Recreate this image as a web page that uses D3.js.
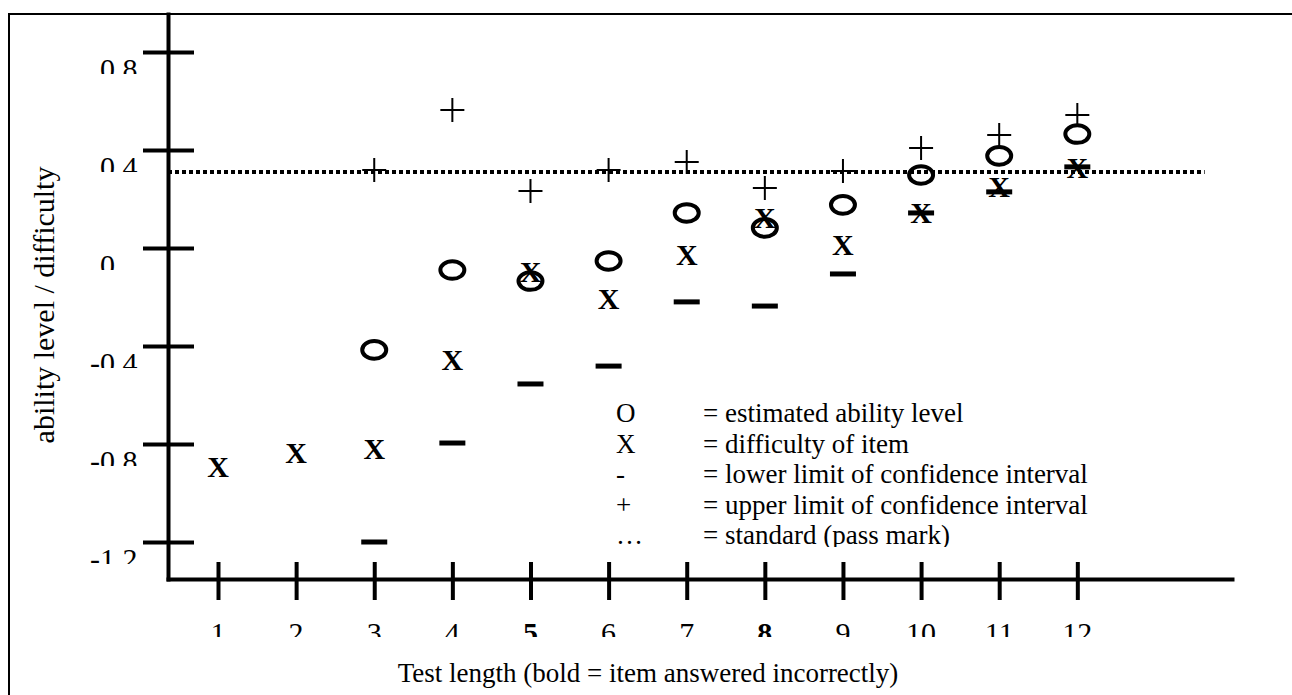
<!DOCTYPE html>
<html><head><meta charset="utf-8">
<script src="https://cdn.jsdelivr.net/npm/d3@7"></script>
<style>
html,body{margin:0;padding:0;background:#fff;}
svg{display:block;}
text{font-family:"Liberation Serif","Times New Roman",serif;fill:#000;}
</style></head><body>
<svg id="chart" width="1292" height="695"></svg>
<script>
// ---- data ----
const testLength     = [1, 2, 3, 4, 5, 6, 7, 8, 9, 10, 11, 12];
const abilityLevel   = [null, null, -0.416, -0.090, -0.135, -0.053, 0.143, 0.082, 0.176, 0.298, 0.376, 0.465];
const itemDifficulty = [-0.894, -0.837, -0.820, -0.457, -0.098, -0.208, -0.029, 0.122, 0.012, 0.143, 0.249, 0.327];
const lowerLimit     = [null, null, -1.200, -0.796, -0.555, -0.482, -0.220, -0.237, -0.106, 0.143, 0.229, 0.331];
const upperLimit     = [null, null, 0.318, 0.563, 0.233, 0.318, 0.351, 0.245, 0.314, 0.408, 0.461, 0.543];
const passMark = 0.31;
const incorrectItems = [5, 8];
const yTickValues = [-1.2, -0.8, -0.4, 0, 0.4, 0.8];
const yTickLabels = ["-1.2", "-0.8", "-0.4", "0", "0.4", "0.8"];
const xTickLabels = ["1","2","3","4","5","6","7","8","9","10","11","12"];
const legendSymbols = ["O", "X", "-", "+", "\u2026"];
const legendLabels = ["= estimated ability level", "= difficulty of item",
  "= lower limit of confidence interval", "= upper limit of confidence interval",
  "= standard (pass mark)"];
const xAxisTitle = "Test length (bold = item answered incorrectly)";
const yAxisTitle = "ability level / difficulty";

// ---- layout ----
const svg = d3.select("#chart");
const x = d3.scaleLinear().domain([0.36, 13.98]).range([168, 1232]);
const y = d3.scaleLinear().domain([-1.351, 0.955]).range([579, 14]);
const passLineEnd = 13.63;

svg.append("rect").attr("width", 1292).attr("height", 695).attr("fill", "#fff");
// outer frame
svg.append("rect").attr("x", 9).attr("y", 14).attr("width", 1400).attr("height", 800)
  .attr("fill", "none").attr("stroke", "#000").attr("stroke-width", 2);

const defs = svg.append("defs");

// y axis
const yAxisG = svg.append("g").attr("transform", `translate(${x.range()[0]},0)`)
  .call(d3.axisLeft(y).tickValues(yTickValues).tickSize(25).tickSizeOuter(0).tickFormat(""));
yAxisG.select(".domain").attr("stroke-width", 4).attr("stroke-linecap", "square");
yAxisG.selectAll(".tick line").attr("x1", 26).attr("stroke-width", 4);

// x axis
const xAxisG = svg.append("g").attr("transform", `translate(0,${y.range()[0]})`)
  .call(d3.axisBottom(x).tickValues(testLength).tickSize(21).tickSizeOuter(0).tickFormat(""));
xAxisG.select(".domain").attr("stroke-width", 4).attr("stroke-linecap", "square");
xAxisG.selectAll(".tick line").attr("y1", -17).attr("stroke-width", 4);

// y tick labels (clipped at the bottom like the original)
const probe = svg.append("text").attr("font-size", 30).text("-");
const minusW = probe.node().getComputedTextLength();
probe.remove();
yTickValues.forEach((v, i) => {
  const base = y(v) + 27;
  const id = "yclip" + i;
  defs.append("clipPath").attr("id", id).append("rect")
    .attr("x", 0).attr("y", base - 32).attr("width", 160).attr("height", 27);
  const lab = yTickLabels[i];
  svg.append("text").attr("clip-path", `url(#${id})`)
    .attr("x", 100 - (lab.startsWith("-") ? minusW : 0)).attr("y", base)
    .attr("font-size", 30).text(lab);
});

// x tick labels
defs.append("clipPath").attr("id", "xclip").append("rect")
  .attr("x", 0).attr("y", 600).attr("width", 1292).attr("height", 37);
svg.append("g").attr("clip-path", "url(#xclip)")
  .selectAll("text").data(testLength).join("text")
  .attr("x", d => x(d)).attr("y", 643).attr("text-anchor", "middle")
  .attr("font-size", 30)
  .attr("font-weight", d => incorrectItems.includes(d) ? "bold" : "normal")
  .text((d, i) => xTickLabels[i]);

// pass mark
svg.append("line")
  .attr("x1", x.range()[0]).attr("x2", x(passLineEnd))
  .attr("y1", y(passMark)).attr("y2", y(passMark))
  .attr("stroke", "#000").attr("stroke-width", 4).attr("stroke-dasharray", "4 3");

const pts = testLength.map((t, i) => ({t, o: abilityLevel[i], xd: itemDifficulty[i], lo: lowerLimit[i], hi: upperLimit[i]}));

// lower limits
svg.append("g").selectAll("rect").data(pts.filter(d => d.lo !== null)).join("rect")
  .attr("x", d => x(d.t) - 13).attr("y", d => y(d.lo) - 2.5)
  .attr("width", 26).attr("height", 5).attr("fill", "#000");
// upper limits
svg.append("g").selectAll("path").data(pts.filter(d => d.hi !== null)).join("path")
  .attr("d", d => `M${x(d.t) - 12},${y(d.hi)}H${x(d.t) + 12}M${x(d.t)},${y(d.hi) - 12}V${y(d.hi) + 12}`)
  .attr("stroke", "#000").attr("stroke-width", 2).attr("fill", "none");
// difficulty X
svg.append("g").selectAll("text").data(pts).join("text")
  .attr("x", d => x(d.t)).attr("y", d => y(d.xd) + 10)
  .attr("text-anchor", "middle").attr("font-size", 30).attr("font-weight", "bold")
  .text("X");
// ability O
svg.append("g").selectAll("ellipse").data(pts.filter(d => d.o !== null)).join("ellipse")
  .attr("cx", d => x(d.t)).attr("cy", d => y(d.o))
  .attr("rx", 12).attr("ry", 8.8)
  .attr("fill", "none").attr("stroke", "#000").attr("stroke-width", 4);

// legend
defs.append("clipPath").attr("id", "legclip").append("rect")
  .attr("x", 590).attr("y", 380).attr("width", 600).attr("height", 167);
const leg = svg.append("g").attr("clip-path", "url(#legclip)");
legendSymbols.forEach((s, i) => {
  const by = 422 + i * 30.5;
  leg.append("text").attr("x", 616).attr("y", by).attr("font-size", 27).text(s);
  leg.append("text").attr("x", 703).attr("y", by).attr("font-size", 27).text(legendLabels[i]);
});

// axis titles
svg.append("text").attr("transform", "translate(54,305) rotate(-90)")
  .attr("text-anchor", "middle").attr("font-size", 30).text(yAxisTitle);
svg.append("text").attr("x", 648).attr("y", 682)
  .attr("text-anchor", "middle").attr("font-size", 27).text(xAxisTitle);
</script>
</body></html>
